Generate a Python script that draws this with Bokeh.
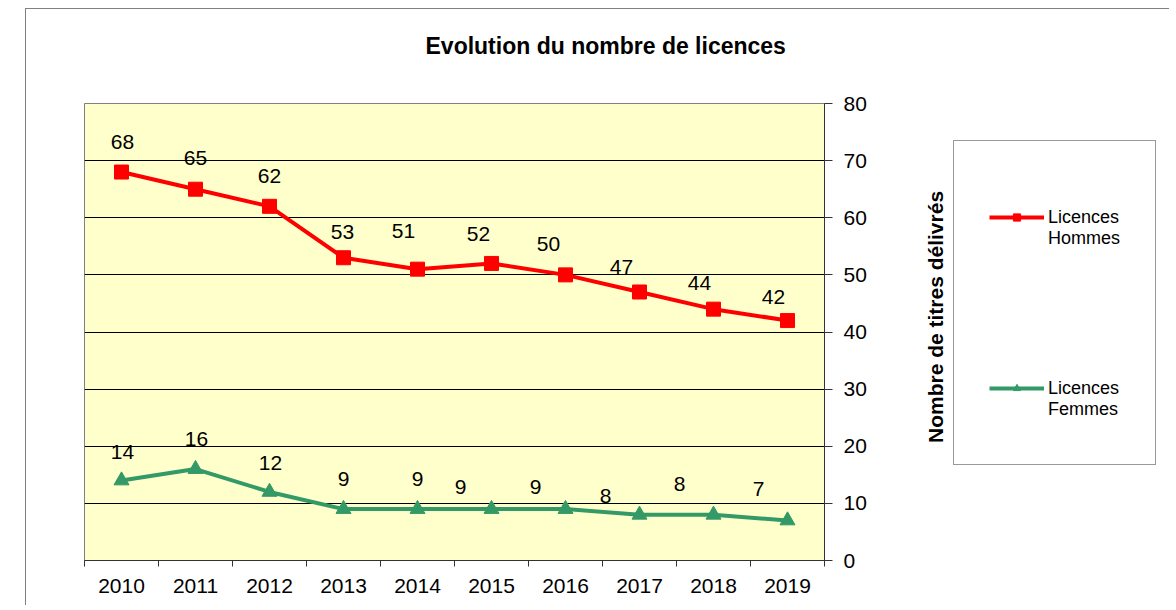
from bokeh.plotting import figure
from bokeh.models import (ColumnDataSource, FixedTicker, Legend, LegendItem,
                          Range1d, Spacer, Title)
from bokeh.layouts import row, column
from bokeh.core.properties import value
from bokeh.embed import file_html
from bokeh.resources import INLINE

# ---- data ----
years = ["2010", "2011", "2012", "2013", "2014",
         "2015", "2016", "2017", "2018", "2019"]
hommes = [68, 65, 62, 53, 51, 52, 50, 47, 44, 42]
femmes = [14, 16, 12, 9, 9, 9, 9, 8, 8, 7]
y_ticks = [0, 10, 20, 30, 40, 50, 60, 70, 80]
series_names = ["Licences\nHommes", "Licences\nFemmes"]
chart_title = "Evolution du nombre de licences"
y_title = "Nombre de titres délivrés"

# ---- label nudges (pixels, style only) ----
label_dx_h = [1, 0, 0, -1, -14, -13, -17, -18, -14, -14]
label_dy_h = [-30, -31, -30, -26, -38, -29, -31, -25, -26, -24]
label_dx_f = [1, 1, 1, 0, 0, -31, -30, -34, -34, -29]
label_dy_f = [-29, -30, -29, -30, -30, -22, -22, -19, -31, -32]

FONT = "Liberation Sans"
RED = "#FF0000"
GREEN = "#339966"
AXC = "#333333"

n = len(years)
pos = [i + 0.5 for i in range(n)]          # category centres
bounds = list(range(n + 1))                 # category boundaries

# ================= main chart =================
p = figure(frame_width=740, frame_height=457,
           x_range=Range1d(0, n), y_range=Range1d(y_ticks[0], y_ticks[-1]),
           output_backend="svg", toolbar_location=None,
           y_axis_location="right",
           min_border_left=58, min_border_right=50,
           min_border_top=94, min_border_bottom=45,
           title=None)

# blank gap between the title and the plot area, then the title itself
p.add_layout(Title(text=" ", text_font_size="1px", standoff=42,
                   text_color="white"), "above")
p.add_layout(Title(text=chart_title, text_font=FONT, text_font_size="23px",
                   text_font_style="bold", align="left", offset=341,
                   standoff=0, text_color="black"), "above")

p.background_fill_color = "#FFFFCC"
p.border_fill_color = "white"
p.outline_line_color = "#808080"
p.outline_line_width = 1

# x axis : labels at centres, ticks at boundaries
xa = p.below[0]
xa.ticker = FixedTicker(ticks=pos, minor_ticks=bounds)
xa.major_label_overrides = {pos[i]: years[i] for i in range(n)}
xa.major_tick_line_color = None
xa.major_tick_out = 6
xa.major_tick_in = 0
xa.minor_tick_line_color = AXC
xa.minor_tick_out = 6
xa.minor_tick_in = 0
xa.axis_line_color = AXC
xa.major_label_text_font = FONT
xa.major_label_text_font_size = "21px"
xa.major_label_text_color = "black"
xa.major_label_standoff = 12

ya = p.right[0]
ya.ticker = FixedTicker(ticks=y_ticks)
ya.major_tick_out = 8
ya.major_tick_in = 0
ya.major_tick_line_color = AXC
ya.minor_tick_line_color = None
ya.axis_line_color = AXC
ya.major_label_text_font = FONT
ya.major_label_text_font_size = "21px"
ya.major_label_text_color = "black"
ya.major_label_standoff = 11

p.xgrid.visible = False
p.ygrid[0].ticker = FixedTicker(ticks=y_ticks[1:-1])
p.ygrid.grid_line_color = "black"
p.ygrid.grid_line_width = 1

src_h = ColumnDataSource(dict(x=pos, y=hommes, lab=[str(v) for v in hommes],
                              dx=label_dx_h, dy=label_dy_h))
src_f = ColumnDataSource(dict(x=pos, y=femmes, lab=[str(v) for v in femmes],
                              dx=label_dx_f, dy=label_dy_f))

LINE_H = dict(line_color=RED, line_width=4)
MARK_H = dict(marker="square", size=14, fill_color=RED, line_color=RED)
LINE_F = dict(line_color=GREEN, line_width=4)
MARK_F = dict(marker="triangle", size=15, fill_color=GREEN, line_color=GREEN)

p.line("x", "y", source=src_h, **LINE_H)
p.scatter("x", "y", source=src_h, **MARK_H)
p.line("x", "y", source=src_f, **LINE_F)
p.scatter("x", "y", source=src_f, **MARK_F)

for src in (src_h, src_f):
    p.text("x", "y", text="lab", x_offset="dx", y_offset="dy", source=src,
           text_font=value(FONT), text_font_size="21px", text_color="black",
           text_align="center", text_baseline="middle")

# ================= axis title + legend panel =================
p2 = figure(frame_width=207, frame_height=457,
            x_range=Range1d(0, 1), y_range=Range1d(0, 1),
            output_backend="svg", toolbar_location=None,
            x_axis_location=None, y_axis_location="left",
            min_border_left=78, min_border_right=10,
            min_border_top=79, min_border_bottom=60)
p2.background_fill_color = "white"
p2.border_fill_color = "white"
p2.outline_line_color = None
p2.grid.visible = False

ya2 = p2.left[0]
ya2.ticker = FixedTicker(ticks=[], minor_ticks=[])
ya2.major_tick_out = 0
ya2.major_tick_in = 0
ya2.minor_tick_out = 0
ya2.minor_tick_in = 0
ya2.major_label_standoff = 0
ya2.major_label_text_font_size = "0px"
ya2.axis_line_color = None
ya2.major_tick_line_color = None
ya2.minor_tick_line_color = None
ya2.axis_label = y_title
ya2.axis_label_text_font = FONT
ya2.axis_label_text_font_size = "21px"
ya2.axis_label_text_font_style = "bold"
ya2.axis_label_text_color = "black"
ya2.axis_label_standoff = 6

# legend swatches: hidden copies of the series, used only for the key
kh = [p2.line("x", "y", source=src_h, visible=False, **LINE_H),
      p2.scatter("x", "y", source=src_h, visible=False, **MARK_H)]
kf = [p2.line("x", "y", source=src_f, visible=False, **LINE_F),
      p2.scatter("x", "y", source=src_f, visible=False, **MARK_F)]

legend = Legend(items=[
    LegendItem(label=" \n" + series_names[0], renderers=kh),
    LegendItem(label=" \n" + series_names[1], renderers=kf),
], location=(1, 80), padding=35, glyph_width=55, glyph_height=18,
   label_height=82, label_standoff=4, spacing=89, margin=0,
   label_text_font=FONT, label_text_font_size="18px", label_text_color="black",
   border_line_color=AXC, border_line_width=1,
   background_fill_color="white", background_fill_alpha=1,
   inactive_fill_alpha=0, click_policy="none")
p2.add_layout(legend, "center")

inner = row(p, column(p2))
inner.styles = {"border-left": "1px solid #808080", "border-top": "1px solid #808080"}
layout = column(Spacer(width=10, height=8), row(Spacer(width=25, height=10), inner))

open("out.html", "w").write(file_html(layout, INLINE))
